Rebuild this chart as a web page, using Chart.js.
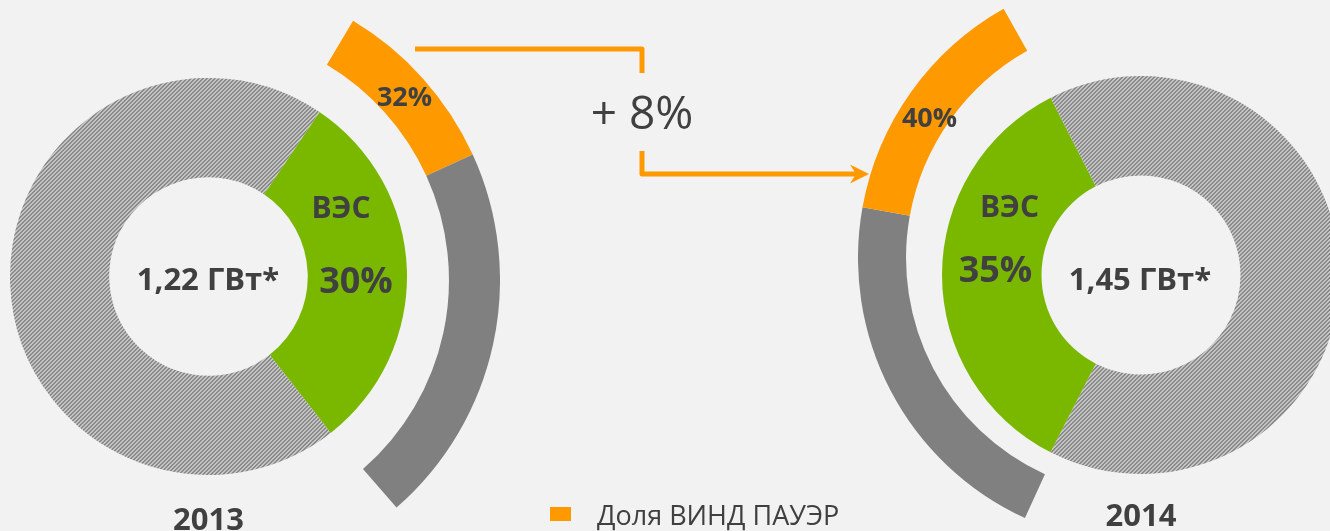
<!DOCTYPE html>
<html>
<head>
<meta charset="utf-8">
<script src="https://cdn.jsdelivr.net/npm/chart.js@4.4.0/dist/chart.umd.min.js"></script>
<style>
  html, body { margin: 0; padding: 0; background: #f2f2f2; }
  #stage { position: relative; width: 1330px; height: 531px; overflow: hidden; background: #f2f2f2; }
  #stage canvas { position: absolute; }
</style>
</head>
<body>
<div id="stage"></div>
<script>
// ---------- data ----------
const years = ['2013', '2014'];
const totalCapacity = ['1,22 ГВт*', '1,45 ГВт*'];
const vesShare = [30, 35];            // share of wind farms (ВЭС), %
const windPowerShare = [32, 40];      // share of ВИНД ПАУЭР within ВЭС, %
const plantLabel = 'ВЭС';
const growthLabel = '+ 8%';
const legendLabel = 'Доля ВИНД ПАУЭР';

// ---------- styling / geometry ----------
const TEXT = '#404040';
const GREEN = '#7ab800';
const ORANGE = '#ff9900';
const GREY = '#808080';
const FONT = '"Open Sans", "DejaVu Sans", sans-serif';

function hatch() {
  const c = document.createElement('canvas');
  c.width = 4; c.height = 4;
  const g = c.getContext('2d');
  g.fillStyle = '#c4c4c4';
  g.fillRect(0, 0, 4, 4);
  g.fillStyle = '#8a8a8a';
  for (let y = 0; y < 4; y++) {
    for (let x = 0; x < 4; x++) {
      const k = (x + y) % 4;
      if (k === 0 || k === 1) g.fillRect(x, y, 1, 1);
    }
  }
  return g.createPattern(c, 'repeat');
}

const stage = document.getElementById('stage');

function makeCanvas(cx, cy, r) {
  const cv = document.createElement('canvas');
  const s = Math.round(2 * r);
  cv.width = s; cv.height = s;
  cv.style.left = Math.round(cx - r) + 'px';
  cv.style.top = Math.round(cy - r) + 'px';
  cv.style.width = s + 'px'; cv.style.height = s + 'px';
  stage.appendChild(cv);
  return cv;
}

const baseOpts = {
  responsive: false,
  maintainAspectRatio: false,
  animation: false,
  events: [],
  layout: { padding: 0 },
  plugins: { legend: { display: false }, tooltip: { enabled: false } }
};

function doughnut(cv, data, colors, rotation, cutout) {
  return new Chart(cv, {
    type: 'doughnut',
    data: {
      labels: data.map((_, i) => 'seg' + i),
      datasets: [{ data: data, backgroundColor: colors, borderWidth: 0, hoverOffset: 0, spacing: 0 }]
    },
    options: Object.assign({}, baseOpts, { rotation: rotation, cutout: cutout })
  });
}

function build() {
  const pattern = hatch();
  // inner doughnuts: ВЭС share vs rest
  const inner = [
    { cx: 208.5, cy: 276.5, r: 198.5, rot: 34 },
    { cx: 1141, cy: 275, r: 199, rot: 207 }
  ];
  inner.forEach((g, i) => {
    doughnut(makeCanvas(g.cx, g.cy, g.r), [vesShare[i], 100 - vesShare[i]],
      [GREEN, pattern], g.rot, '50%');
  });

  // outer arcs: split of the ВЭС share between ВИНД ПАУЭР (orange) and others (grey)
  {
    const s = vesShare[0], w = windPowerShare[0];
    doughnut(makeCanvas(198, 280, 302),
      [s * w / 100, s * (100 - w) / 100, 100 - s],
      [ORANGE, GREY, 'rgba(0,0,0,0)'], 30.9, '83.1%');
  }
  {
    const s = vesShare[1], w = windPowerShare[1];
    doughnut(makeCanvas(1144, 258, 286),
      [s * (100 - w) / 100, s * w / 100, 100 - s],
      [GREY, ORANGE, 'rgba(0,0,0,0)'], 204.6, '83.2%');
  }

  // overlay chart for texts, connector and legend
  const ov = document.createElement('canvas');
  ov.width = 1330; ov.height = 531;
  ov.style.left = '0px'; ov.style.top = '0px';
  ov.style.width = '1330px'; ov.style.height = '531px';
  stage.appendChild(ov);

  const capText = (ctx, txt, x, capCy, size, weight, align) => {
    ctx.font = weight + ' ' + size + 'px ' + FONT;
    ctx.textAlign = align || 'center';
    ctx.textBaseline = 'alphabetic';
    ctx.fillStyle = TEXT;
    ctx.fillText(txt, x, capCy + 0.357 * size);
  };

  const annotations = {
    id: 'annotations',
    afterDraw(chart) {
      const ctx = chart.ctx;
      ctx.save();
      // connector
      ctx.strokeStyle = ORANGE;
      ctx.lineWidth = 5;
      ctx.lineJoin = 'round';
      ctx.lineCap = 'butt';
      ctx.beginPath();
      ctx.moveTo(415, 49); ctx.lineTo(642, 49); ctx.lineTo(642, 73);
      ctx.stroke();
      ctx.beginPath();
      ctx.moveTo(642, 151); ctx.lineTo(642, 174); ctx.lineTo(856, 174);
      ctx.stroke();
      ctx.fillStyle = ORANGE;
      ctx.beginPath();
      ctx.moveTo(869, 174); ctx.lineTo(850, 164.5); ctx.lineTo(856, 174); ctx.lineTo(850, 183.5);
      ctx.closePath(); ctx.fill();

      capText(ctx, growthLabel, 642, 112.5, 46, 'normal');

      // labels 2013
      capText(ctx, plantLabel, 341, 207, 30, 'bold');
      capText(ctx, vesShare[0] + '%', 356, 280, 36, 'bold');
      capText(ctx, totalCapacity[0], 208, 278.5, 31, 'bold');
      capText(ctx, windPowerShare[0] + '%', 404.5, 96.5, 27, 'bold');
      capText(ctx, years[0], 208.5, 519, 31, 'bold');
      // labels 2014
      capText(ctx, plantLabel, 1009.5, 206.5, 30, 'bold');
      capText(ctx, vesShare[1] + '%', 995.5, 269.5, 36, 'bold');
      capText(ctx, totalCapacity[1], 1140, 278.5, 31, 'bold');
      capText(ctx, windPowerShare[1] + '%', 929.5, 117, 27, 'bold');
      capText(ctx, years[1], 1141, 514.5, 31, 'bold');

      // legend
      ctx.fillStyle = ORANGE;
      ctx.fillRect(550, 507, 21, 14);
      capText(ctx, legendLabel, 597, 515.5, 27, 'normal', 'left');
      ctx.restore();
    }
  };

  new Chart(ov, {
    type: 'bar',
    data: { labels: [], datasets: [] },
    options: Object.assign({}, baseOpts, {
      scales: { x: { display: false }, y: { display: false } }
    }),
    plugins: [annotations]
  });
}

const fontsReady = (document.fonts && document.fonts.load)
  ? Promise.all([
      document.fonts.load('bold 30px "Open Sans"'),
      document.fonts.load('normal 46px "Open Sans"'),
      document.fonts.load('normal 26px "Open Sans"')
    ]).catch(() => {})
  : Promise.resolve();
Promise.race([fontsReady, new Promise(r => setTimeout(r, 800))]).then(build);
</script>
</body>
</html>
